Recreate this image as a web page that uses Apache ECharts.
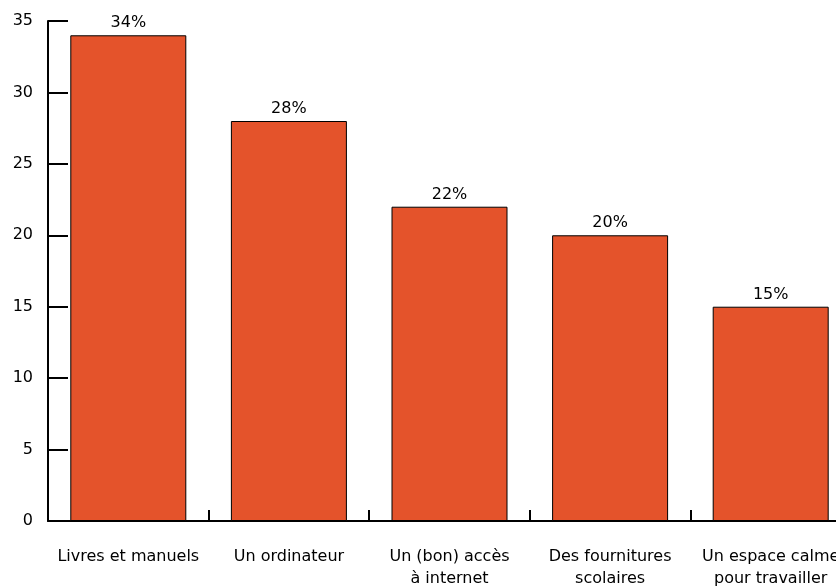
<!DOCTYPE html>
<html>
<head>
<meta charset="utf-8">
<script src="https://cdn.jsdelivr.net/npm/echarts@6/dist/echarts.min.js"></script>
<style>
  html, body { margin: 0; padding: 0; background: #fff; }
  #chart { width: 836px; height: 586px; }
</style>
</head>
<body>
<div id="chart"></div>
<script>
// données du graphique
var categories = ['Livres et manuels', 'Un ordinateur', 'Un (bon) accès\nà internet', 'Des fournitures\nscolaires', 'Un espace calme\npour travailler']
var values = [34, 28, 22, 20, 15]
var yTicks = { min: 0, max: 35, interval: 5 }

var myChart = echarts.init(document.getElementById('chart'))
myChart.setOption({
  animation: false,
  textStyle: { fontFamily: 'DejaVu Sans' },
  grid: {
    left: 48,
    right: -15,
    top: 21,
    bottom: 65,
    containLabel: false,
    outerBoundsMode: 'none'
  },
  xAxis: {
    type: 'category',
    data: categories,
    boundaryGap: true,
    axisLine: { lineStyle: { color: '#000', width: 2 } },
    axisTick: { show: true, inside: true, length: 11, lineStyle: { color: '#000', width: 2 } },
    axisLabel: {
      color: '#000',
      fontSize: 16,
      margin: 25,
      lineHeight: 22,
      interval: 0
    }
  },
  yAxis: {
    type: 'value',
    min: yTicks.min,
    max: yTicks.max,
    interval: yTicks.interval,
    axisLine: { show: true, lineStyle: { color: '#000', width: 2 } },
    axisTick: { show: true, inside: true, length: 20, lineStyle: { color: '#000', width: 2 } },
    splitLine: { show: false },
    axisLabel: {
      color: '#000',
      fontSize: 16,
      margin: 15
    }
  },
  series: [
    {
      type: 'bar',
      data: values,
      barWidth: 116,
      itemStyle: {
        color: '#E4532B',
        borderColor: '#000',
        borderWidth: 1
      },
      label: {
        show: true,
        position: 'top',
        distance: 4,
        formatter: '{c}%',
        color: '#000',
        fontSize: 16
      }
    }
  ]
})
</script>
</body>
</html>
